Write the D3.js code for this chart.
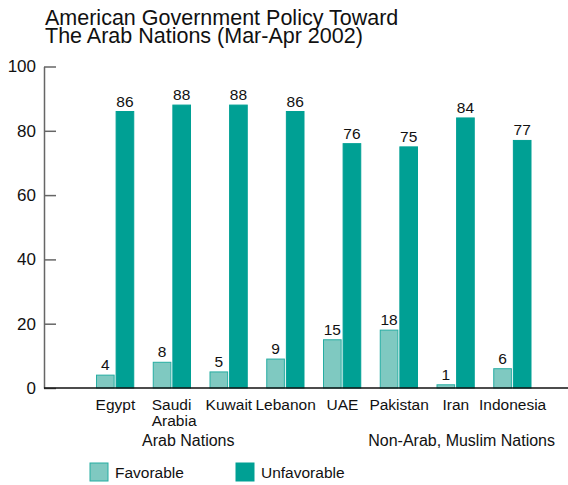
<!DOCTYPE html>
<html>
<head>
<meta charset="utf-8">
<script src="https://cdn.jsdelivr.net/npm/d3@7/dist/d3.min.js"></script>
<style>
  html, body { margin: 0; padding: 0; background: #fff; }
  svg { display: block; font-family: "Liberation Sans", Arial, sans-serif; }
</style>
</head>
<body>
<svg id="chart" width="568" height="485"></svg>
<script>
// Survey results: views of American government policy toward the Arab nations
const countries = ["Egypt", "Saudi Arabia", "Kuwait", "Lebanon", "UAE", "Pakistan", "Iran", "Indonesia"];
const favorable = [4, 8, 5, 9, 15, 18, 1, 6];
const unfavorable = [86, 88, 88, 86, 76, 75, 84, 77];
const seriesNames = ["Favorable", "Unfavorable"];
const yTicks = [0, 20, 40, 60, 80, 100];
const regions = ["Arab Nations", "Non-Arab, Muslim Nations"];

const colors = { Favorable: "#7fc9c1", Unfavorable: "#00a094" };
const strokes = { Favorable: "#26ada2", Unfavorable: "#00a094" };

const svg = d3.select("#chart");

const y = d3.scaleLinear().domain([0, 100]).range([388, 66.5]);
const x = d3.scaleBand().domain(countries).range([87, 541]).padding(0);
const xSub = d3.scaleBand().domain(seriesNames).range([9, x.bandwidth() - 9.5]).paddingInner(0.05);

// Title (two tightly set lines)
const title = svg.append("text").attr("x", 45).attr("fill", "#111").attr("font-size", 21.5);
title.append("tspan").attr("x", 45).attr("y", 25).text("American Government Policy Toward");
title.append("tspan").attr("x", 45).attr("y", 43).text("The Arab Nations (Mar-Apr 2002)");

// Y axis
const yAxis = d3.axisLeft(y).tickValues(yTicks).tickSize(0).tickPadding(8);
const gy = svg.append("g").attr("transform", "translate(44,0)").call(yAxis);
gy.select(".domain").attr("stroke", "#666").attr("stroke-width", 1.5);
gy.selectAll(".tick text").attr("font-size", 17).attr("fill", "#111")
  .attr("font-family", "Liberation Sans, Arial, sans-serif");
gy.selectAll(".tick line").remove();
gy.selectAll(".tick").append("line")
  .attr("x1", 0).attr("x2", 12).attr("stroke", "#666").attr("stroke-width", 1.5);

// Bars
const rows = countries.map((c, i) => ({ country: c, Favorable: favorable[i], Unfavorable: unfavorable[i] }));
const groups = svg.append("g").selectAll("g").data(rows).join("g")
  .attr("transform", d => `translate(${x(d.country)},0)`);

const cells = groups.selectAll("g").data(d => seriesNames.map(k => ({ key: k, value: d[k] }))).join("g");
cells.append("rect")
  .attr("x", d => xSub(d.key) + 0.5)
  .attr("width", xSub.bandwidth() - 1)
  .attr("y", d => y(d.value))
  .attr("height", d => y(0) - y(d.value))
  .attr("fill", d => colors[d.key])
  .attr("stroke", d => strokes[d.key])
  .attr("stroke-width", 1);
cells.append("text")
  .attr("x", d => xSub(d.key) + xSub.bandwidth() / 2)
  .attr("y", d => y(d.value) - 5)
  .attr("text-anchor", "middle")
  .attr("font-size", 15.5)
  .attr("fill", "#111")
  .text(d => d.value);

// Baseline
svg.append("line").attr("x1", 44).attr("x2", 568).attr("y1", y(0)).attr("y2", y(0))
  .attr("stroke", "#111").attr("stroke-width", 1.5);

// Category labels
const catLabels = svg.append("g").selectAll("text").data(countries).join("text")
  .attr("x", d => x(d) + x.bandwidth() / 2)
  .attr("y", 410)
  .attr("text-anchor", "middle")
  .attr("font-size", 15.5)
  .attr("fill", "#111");
catLabels.each(function (d) {
  const words = d === "Saudi Arabia" ? ["Saudi", "Arabia"] : [d];
  const t = d3.select(this);
  if (words.length > 1) t.attr("text-anchor", "start").attr("x", x(d) + 8);
  words.forEach((w, i) => {
    t.append("tspan").attr("x", t.attr("x")).attr("dy", i === 0 ? 0 : 15.5).text(w);
  });
});

// Region labels: first one starts under Egypt, second one ends past Indonesia
const regionPos = [
  { x: x("Egypt") + 55, anchor: "start" },
  { x: x("Indonesia") + x.bandwidth() + 14, anchor: "end" }
];
svg.append("g").selectAll("text").data(regions).join("text")
  .attr("x", (d, i) => regionPos[i].x)
  .attr("text-anchor", (d, i) => regionPos[i].anchor)
  .attr("y", 446)
  .attr("font-size", 16)
  .attr("fill", "#111")
  .text(d => d);

// Legend
const legendX = [90, 236];
const legend = svg.append("g").selectAll("g").data(seriesNames).join("g")
  .attr("transform", (d, i) => `translate(${legendX[i]},463)`);
legend.append("rect").attr("width", 18).attr("height", 18)
  .attr("fill", d => colors[d]).attr("stroke", d => strokes[d]).attr("stroke-width", 1);
legend.append("text").attr("x", 25).attr("y", 15).attr("font-size", 15.5).attr("fill", "#111").text(d => d);
</script>
</body>
</html>
